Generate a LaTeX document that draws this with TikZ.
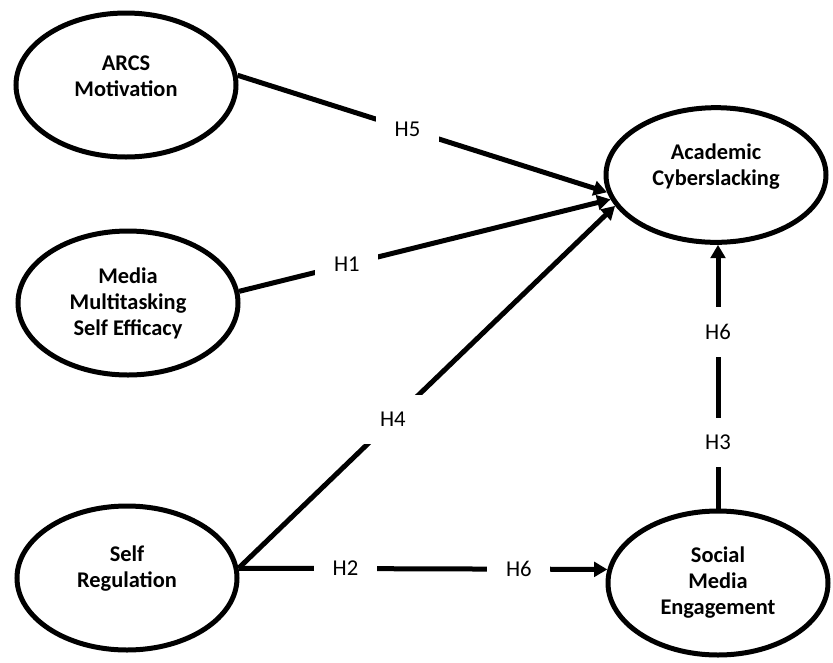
\documentclass[tikz,border=0pt]{standalone}
\usepackage{fontspec}
\setmainfont{Carlito}
\usetikzlibrary{arrows.meta, shapes.geometric}
\tikzset{construct/.style={ellipse, draw=black, line width=3.75pt, minimum width=165pt, minimum height=108pt, align=center, font=\fontsize{16.8}{19.5}\selectfont\bfseries},hyplabel/.style={fill=white, inner xsep=14pt, inner ysep=13pt, font=\fontsize{17}{19}\selectfont}}

\begin{document}
\begin{tikzpicture}[
        x=0.75pt, y=-0.75pt,
        path/.style={line width=3.75pt, -{Triangle[length=10pt, width=11pt]}}
    ]
        \useasboundingbox (0, 0) rectangle (833, 662);
        % Constructs
        \node[construct] (arcs) at (126, 85) {ARCS\\Motivation\\[-6pt]\mbox{}};
        \node[construct] (media) at (128, 303) {Media\\Multitasking\\Self Efficacy};
        \node[construct] (selfreg) at (127, 578) {Self\\Regulation\\[-2pt]\mbox{}};
        \node[construct, minimum height=101pt] (acad) at (716, 175) {Academic\\Cyberslacking\\[-4pt]\mbox{}};
        \node[construct] (social) at (718, 583) {Social\\Media\\Engagement};
        % Paths
        \foreach \from/\to/\pos/\hyp in {
            arcs.5/acad.189/0.46/H5,
            media.6/acad.193/0.29/H1,
            selfreg.5/acad.197/0.41/H4} {
            \draw[path] (\from) -- (\to) node[hyplabel, pos=\pos] {\hyp};
        }
        \draw[path] (selfreg.5) -- (social.173)
            node[hyplabel, pos=0.29] {H2}
            node[hyplabel, pos=0.76] {H6};
        \draw[path] (social.north) -- (social.north |- acad.south)
            node[hyplabel, pos=0.25] {H3}
            node[hyplabel, pos=0.67] {H6};
    \end{tikzpicture}
\end{document}
